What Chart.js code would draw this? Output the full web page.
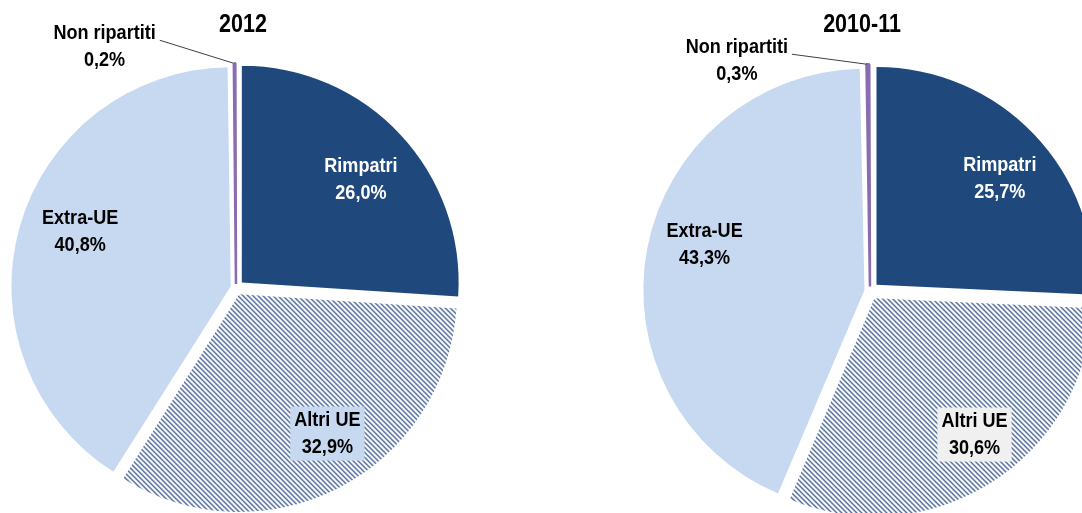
<!DOCTYPE html>
<html><head><meta charset="utf-8">
<script src="https://cdn.jsdelivr.net/npm/chart.js@4/dist/chart.umd.min.js"></script>
<style>
html,body{margin:0;padding:0;background:#fff;overflow:hidden;}
#wrap{position:relative;width:1082px;height:513px;overflow:hidden;background:#fff;}
canvas{position:absolute;}
</style></head><body>
<div id="wrap">
<canvas id="c1" width="541" height="540" style="left:0;top:0"></canvas>
<canvas id="c2" width="579" height="540" style="left:541px;top:0"></canvas>
</div>
<script>
// ---- data ----
const categories = ['Rimpatri', 'Altri UE', 'Extra-UE', 'Non ripartiti'];
const values2012 = [26.0, 32.9, 40.8, 0.2];
const values2010_11 = [25.7, 30.6, 43.3, 0.3];
const titles = ['2012', '2010-11'];

// ---- styles ----
const FONT = "'Liberation Sans', Arial, sans-serif";
const SX = 0.86; // horizontal condensing of text (Arial Narrow look)
const DARK_BLUE = '#1F497D';
const LIGHT_BLUE = '#C6D9F1';
const PURPLE = '#8064A2';

function makeStripes() {
  const p = 5;
  const c = document.createElement('canvas');
  c.width = p; c.height = p;
  const g = c.getContext('2d');
  const img = g.createImageData(p, p);
  const cols = [[0x2B,0x4C,0x84],[0x6A,0x82,0xAC],[255,255,255],[255,255,255],[255,255,255]];
  for (let y = 0; y < p; y++) for (let x = 0; x < p; x++) {
    const d = ((x - y) % p + p) % p;
    const k = (y * p + x) * 4;
    img.data[k] = cols[d][0]; img.data[k+1] = cols[d][1]; img.data[k+2] = cols[d][2];
    img.data[k+3] = 255;
  }
  g.putImageData(img, 0, 0);
  return g.createPattern(c, 'repeat');
}
const stripes = makeStripes();

function fmt(v) { return v.toFixed(1).replace('.', ',') + '%'; }

function offsetsFor(values, explode) {
  const total = values.reduce((a, b) => a + b, 0);
  return values.map(v => {
    const circ = v / total * 2 * Math.PI;
    const fix = 1 - Math.sin(Math.min(Math.PI, circ));
    return 4 * explode / (1 + fix);
  });
}

function txt(ctx, s, x, y) {
  ctx.save();
  ctx.translate(x, y);
  ctx.scale(SX, 1);
  ctx.fillText(s, 0, 0);
  ctx.restore();
}

const labelPlugin = {
  id: 'pieLabels',
  afterDatasetsDraw(chart, args, o) {
    const ctx = chart.ctx;
    const meta = chart.getDatasetMeta(0);
    const ds = chart.data.datasets[0];
    ctx.save();
    ctx.textAlign = 'center';
    ctx.textBaseline = 'middle';
    let cx0 = 0;
    meta.data.forEach((arc, i) => {
      const p = arc.getProps(['x', 'y', 'startAngle', 'endAngle', 'outerRadius']);
      cx0 = p.x;
      const mid = (p.startAngle + p.endAngle) / 2;
      const t = o.explode;
      const R = p.outerRadius;
      const l1 = chart.data.labels[i], l2 = fmt(ds.data[i]);
      ctx.font = 'bold ' + o.fontSize + 'px ' + FONT;
      if (i === 3) {
        const tipX = p.x + Math.cos(mid) * (R + t), tipY = p.y + Math.sin(mid) * (R + t);
        const tx = tipX + o.outDx, ty = tipY + o.outDy;
        const w = ctx.measureText(l1).width * SX;
        ctx.strokeStyle = '#404040';
        ctx.lineWidth = 1;
        ctx.beginPath();
        ctx.moveTo(tx + w / 2 + 4, ty + 7);
        ctx.lineTo(tipX - 1, tipY);
        ctx.stroke();
        ctx.fillStyle = '#000';
        txt(ctx, l1, tx, ty);
        txt(ctx, l2, tx, ty + o.lineH);
        return;
      }
      const lp = o.place[i];
      const a = mid + lp.da * Math.PI / 180;
      const d = lp.k * R + t;
      const lx = p.x + Math.cos(a) * d, ly = p.y + Math.sin(a) * d - o.lineH / 2;
      if (i === 1) {
        const w = Math.max(ctx.measureText(l1).width, ctx.measureText(l2).width) * SX;
        ctx.fillStyle = o.boxColor;
        ctx.fillRect(lx - w / 2 - 4, ly - 14, w + 8, o.lineH + 27);
      }
      ctx.fillStyle = i === 0 ? '#fff' : '#000';
      txt(ctx, l1, lx, ly);
      txt(ctx, l2, lx, ly + o.lineH);
    });
    ctx.font = 'bold ' + o.titleSize + 'px ' + FONT;
    ctx.fillStyle = '#000';
    txt(ctx, o.title, cx0 + o.titleDx, 25);
    ctx.restore();
  }
};

function makePie(id, values, title, explode, pad, extra) {
  return new Chart(document.getElementById(id), {
    type: 'pie',
    data: {
      labels: categories,
      datasets: [{
        data: values,
        backgroundColor: [DARK_BLUE, stripes, LIGHT_BLUE, PURPLE],
        borderColor: [DARK_BLUE, DARK_BLUE, LIGHT_BLUE, '#8A6DB0'],
        borderWidth: [0, 0, 0, 2.5],
        hoverBorderWidth: 0,
        offset: offsetsFor(values, explode),
        hoverOffset: 0
      }]
    },
    options: {
      responsive: false,
      animation: false,
      events: [],
      layout: { padding: pad },
      plugins: {
        legend: { display: false },
        tooltip: { enabled: false },
        title: { display: false },
        pieLabels: Object.assign({ title: title, explode: explode, fontSize: 21, titleSize: 25, lineH: 27 }, extra)
      }
    },
    plugins: [labelPlugin]
  });
}

makePie('c1', values2012, titles[0], 8,
  { left: 2, top: 54, right: 71, bottom: 18 },
  { boxColor: '#C6D9F1', outDx: -130, outDy: -30, titleDx: 7,
    place: [{ k: 0.726, da: 2.2 }, { k: 0.758, da: -5.0 }, { k: 0.727, da: 4.0 }] });
makePie('c2', values2010_11, titles[1], 9,
  { left: 92, top: 54, right: 13, bottom: 12 },
  { boxColor: '#F0F0F0', outDx: -131, outDy: -17, titleDx: -8,
    place: [{ k: 0.747, da: 2.8 }, { k: 0.776, da: -3.7 }, { k: 0.747, da: 4.6 }] });
</script>
</body></html>
